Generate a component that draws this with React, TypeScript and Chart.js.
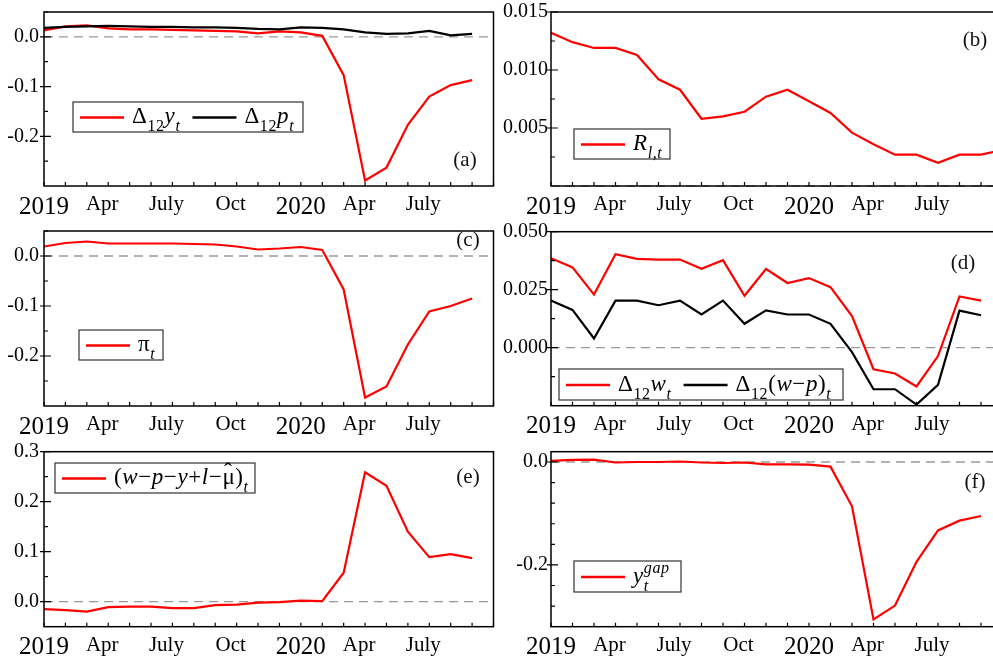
import React, { useEffect, useRef } from 'react';
import { Chart, registerables } from 'chart.js';

Chart.register(...registerables);

const SERIF = '"Liberation Serif", "Times New Roman", serif';
const RED = '#ff0000';
const BLACK = '#000000';

// Months from Jan 2019 (index 0) to Oct 2020 (index 21)
const months = [
  '2019-01', '2019-02', '2019-03', '2019-04', '2019-05', '2019-06', '2019-07', '2019-08',
  '2019-09', '2019-10', '2019-11', '2019-12', '2020-01', '2020-02', '2020-03', '2020-04',
  '2020-05', '2020-06', '2020-07', '2020-08', '2020-09', '2020-10',
];
const xTickPos = [0, 2.72, 5.72, 8.72, 12, 14.72, 17.72];
const xTickLabels = ['2019', 'Apr', 'July', 'Oct', '2020', 'Apr', 'July'];

// (a)
const dy12 = [0.013, 0.021, 0.023, 0.017, 0.015, 0.015, 0.014, 0.013, 0.012, 0.011, 0.007, 0.011, 0.009, 0.002, -0.077, -0.289, -0.263, -0.177, -0.120, -0.097, -0.087];
const dp12 = [0.018, 0.020, 0.021, 0.022, 0.021, 0.020, 0.020, 0.019, 0.019, 0.018, 0.016, 0.015, 0.019, 0.018, 0.015, 0.009, 0.006, 0.007, 0.012, 0.003, 0.006];
// (b)
const rl = [0.0132, 0.0124, 0.0119, 0.0119, 0.0113, 0.0092, 0.0083, 0.0058, 0.0060, 0.0064, 0.0077, 0.0083, 0.0073, 0.0063, 0.0046, 0.0036, 0.0027, 0.0027, 0.0020, 0.0027, 0.0027, 0.0031];
// (c)
const infl = [0.019, 0.026, 0.029, 0.025, 0.025, 0.025, 0.025, 0.024, 0.023, 0.019, 0.013, 0.015, 0.018, 0.012, -0.067, -0.283, -0.261, -0.177, -0.111, -0.100, -0.085];
// (d)
const dw12 = [0.0386, 0.0346, 0.0229, 0.0403, 0.0383, 0.0380, 0.0380, 0.0340, 0.0377, 0.0224, 0.0339, 0.0279, 0.0300, 0.0261, 0.0136, -0.0093, -0.0111, -0.0167, -0.0036, 0.0221, 0.0203];
const dwp12 = [0.0203, 0.0163, 0.0040, 0.0203, 0.0203, 0.0183, 0.0203, 0.0143, 0.0203, 0.0103, 0.0161, 0.0143, 0.0143, 0.0103, -0.0019, -0.0179, -0.0179, -0.0245, -0.0160, 0.0160, 0.0140];
// (e)
const wedge = [-0.015, -0.017, -0.020, -0.011, -0.010, -0.010, -0.013, -0.013, -0.007, -0.006, -0.002, -0.001, 0.002, 0.001, 0.058, 0.259, 0.232, 0.140, 0.089, 0.095, 0.087];
// (f)
const ygap = [0.002, 0.004, 0.0045, -0.001, 0.000, 0.000, 0.001, -0.001, -0.002, -0.001, -0.0045, -0.0045, -0.005, -0.009, -0.086, -0.306, -0.279, -0.194, -0.133, -0.114, -0.105];

// y ticks
const yMajorA = [0, -0.1, -0.2];
const yMinorA = [0.05, -0.05, -0.15, -0.25];
const yMajorB = [0.015, 0.01, 0.005];
const yMinorB = [0.0125, 0.0075, 0.0025];
const yMajorD = [0.05, 0.025, 0];
const yMinorD = [0.0375, 0.0125, -0.0125];
const yMajorE = [0.3, 0.2, 0.1, 0];
const yMinorE = [0.25, 0.15, 0.05];
const yMajorF = [0, -0.2];
const yMinorF = [-0.04, -0.08, -0.12, -0.16, -0.24, -0.28];

type Seg = { t: string; i?: boolean; sub?: boolean; sup?: boolean; hold?: boolean; hat?: boolean };
type Series = { data: number[]; color: string; order: number };
type LegendItem = { color: string; segs: Seg[] };
type PanelCfg = {
  left: number; top: number; width: number; height: number;
  padTop: number; padRight: number; yWidth: number; xHeight: number; yPad: number;
  yMin: number; yMax: number; yMajor: number[]; yMinor: number[]; dec: number;
  series: Series[];
  legend: { x: number; y: number; w: number; h: number; base: number; items: LegendItem[] };
  tag: string; tagX: number; tagY: number;
};

function drawRich(ctx: CanvasRenderingContext2D, segs: Seg[], x: number, base: number): number {
  let cx = x;
  (ctx as any).letterSpacing = '0.6px';
  for (const s of segs) {
    const small = s.sub || s.sup;
    const size = small ? 16 : 23;
    ctx.font = `${s.i ? 'italic ' : ''}${size}px ${SERIF}`;
    const dy = s.sub ? 8 : s.sup ? -10 : 0;
    ctx.textAlign = 'left';
    ctx.fillText(s.t, cx, base + dy);
    const w = ctx.measureText(s.t).width;
    if (s.hat) {
      ctx.save();
      ctx.font = `24px ${SERIF}`;
      ctx.textAlign = 'center';
      ctx.fillText('ˆ', cx + w / 2 - 0.5, base - 5);
      ctx.restore();
    }
    if (!s.hold) cx += w;
  }
  (ctx as any).letterSpacing = '0px';
  return cx;
}

function makeDeco(cfg: PanelCfg) {
  return {
    id: 'panelDeco',
    beforeDatasetsDraw(chart: any) {
      const { ctx, chartArea: a } = chart;
      const ys = chart.scales.y;
      const y0 = ys.getPixelForValue(0);
      ctx.save();
      ctx.strokeStyle = '#999999';
      ctx.lineWidth = 1.3;
      ctx.setLineDash([9, 6]);
      ctx.beginPath();
      ctx.moveTo(a.left, y0);
      ctx.lineTo(a.right, y0);
      ctx.stroke();
      ctx.restore();
    },
    afterDatasetsDraw(chart: any) {
      const { ctx, chartArea: a } = chart;
      const xs = chart.scales.x;
      const ys = chart.scales.y;
      ctx.save();
      // frame
      ctx.strokeStyle = '#000';
      ctx.lineWidth = 1.5;
      ctx.strokeRect(a.left, a.top, a.right - a.left, a.bottom - a.top);
      // x ticks (monthly, inward)
      ctx.lineWidth = 1.2;
      ctx.beginPath();
      months.forEach((_m, i) => {
        const px = xs.getPixelForValue(i);
        ctx.moveTo(px, a.bottom);
        ctx.lineTo(px, a.bottom - 4);
      });
      // y ticks
      cfg.yMajor.forEach((v) => {
        const py = ys.getPixelForValue(v);
        ctx.moveTo(a.left - 4, py);
        ctx.lineTo(a.left + 7, py);
      });
      cfg.yMinor.forEach((v) => {
        const py = ys.getPixelForValue(v);
        ctx.moveTo(a.left, py);
        ctx.lineTo(a.left + 4, py);
      });
      ctx.stroke();

      // legend
      const L = cfg.legend;
      const lx = L.x - cfg.left;
      const ly = L.y - cfg.top;
      ctx.fillStyle = '#fff';
      ctx.fillRect(lx, ly, L.w, L.h);
      ctx.strokeStyle = '#333';
      ctx.lineWidth = 1.2;
      ctx.strokeRect(lx, ly, L.w, L.h);
      let cx = lx + 7;
      const mid = ly + L.h / 2 + 0.5;
      const base = ly + L.base;
      ctx.textBaseline = 'alphabetic';
      L.items.forEach((it) => {
        ctx.strokeStyle = it.color;
        ctx.lineWidth = 2.4;
        ctx.beginPath();
        ctx.moveTo(cx, mid);
        ctx.lineTo(cx + 44, mid);
        ctx.stroke();
        cx += 44 + 8;
        ctx.fillStyle = '#000';
        cx = drawRich(ctx, it.segs, cx, base);
        cx += 12;
      });

      // panel tag
      ctx.fillStyle = '#111';
      ctx.font = `21px ${SERIF}`;
      ctx.textAlign = 'center';
      ctx.textBaseline = 'middle';
      ctx.fillText(cfg.tag, cfg.tagX - cfg.left, cfg.tagY - cfg.top);
      ctx.restore();
    },
  };
}

function Panel({ cfg }: { cfg: PanelCfg }) {
  const ref = useRef<HTMLCanvasElement | null>(null);
  useEffect(() => {
    if (!ref.current) return;
    const chart = new Chart(ref.current, {
      type: 'line',
      data: {
        datasets: cfg.series.map((s) => ({
          data: s.data.map((v, i) => ({ x: i, y: v })),
          borderColor: s.color,
          backgroundColor: s.color,
          borderWidth: 2.2,
          pointRadius: 0,
          tension: 0,
          fill: false,
          order: s.order,
        })),
      },
      options: {
        animation: false,
        responsive: false,
        devicePixelRatio: 1,
        layout: { padding: { top: cfg.padTop, right: cfg.padRight, left: 0, bottom: 0 } },
        plugins: { legend: { display: false }, tooltip: { enabled: false } },
        scales: {
          x: {
            type: 'linear',
            min: 0,
            max: 21,
            grid: { display: false, drawTicks: false },
            border: { display: false },
            afterBuildTicks: (s: any) => {
              s.ticks = xTickPos.map((v) => ({ value: v }));
            },
            afterFit: (s: any) => {
              s.height = cfg.xHeight;
              s.paddingLeft = 0;
              s.paddingRight = 0;
            },
            ticks: {
              autoSkip: false,
              maxRotation: 0,
              minRotation: 0,
              padding: 6,
              color: '#000',
              callback: (_v: any, i: number) => xTickLabels[i],
              font: (c: any) => ({
                family: SERIF,
                size: /^\d{4}$/.test(xTickLabels[c.index] || '') ? 25 : 21,
              }),
            },
          },
          y: {
            type: 'linear',
            min: cfg.yMin,
            max: cfg.yMax,
            grid: { display: false, drawTicks: false },
            border: { display: false },
            afterBuildTicks: (s: any) => {
              s.ticks = cfg.yMajor.map((v) => ({ value: v }));
            },
            afterFit: (s: any) => {
              s.width = cfg.yWidth;
              s.paddingTop = 0;
              s.paddingBottom = 0;
            },
            ticks: {
              padding: cfg.yPad,
              color: '#000',
              font: { family: SERIF, size: 20 },
              callback: (v: any) => Number(v).toFixed(cfg.dec),
            },
          },
        },
      },
      plugins: [makeDeco(cfg)],
    } as any);
    return () => chart.destroy();
  }, [cfg]);
  return (
    <canvas
      ref={ref}
      width={cfg.width}
      height={cfg.height}
      style={{ position: 'absolute', left: cfg.left, top: cfg.top, width: cfg.width, height: cfg.height }}
    />
  );
}

const D12: Seg[] = [{ t: 'Δ' }, { t: '12', sub: true }];

const panels: PanelCfg[] = [
  {
    left: 0, top: 0, width: 500, height: 236, padTop: 12, padRight: 6.5, yWidth: 44, xHeight: 50, yPad: 5,
    yMin: -0.3, yMax: 0.05, yMajor: yMajorA, yMinor: yMinorA, dec: 1,
    series: [{ data: dy12, color: RED, order: 2 }, { data: dp12, color: BLACK, order: 1 }],
    legend: {
      x: 73, y: 102, w: 230, h: 30, base: 21,
      items: [
        { color: RED, segs: [...D12, { t: 'y', i: true }, { t: 't', i: true, sub: true }] },
        { color: BLACK, segs: [...D12, { t: 'p', i: true }, { t: 't', i: true, sub: true }] },
      ],
    },
    tag: '(a)', tagX: 465, tagY: 160,
  },
  {
    left: 470, top: 0, width: 540, height: 236, padTop: 12, padRight: 7.5, yWidth: 81, xHeight: 50, yPad: 3,
    yMin: 0, yMax: 0.015, yMajor: yMajorB, yMinor: yMinorB, dec: 3,
    series: [{ data: rl, color: RED, order: 1 }],
    legend: {
      x: 574, y: 129, w: 96, h: 30, base: 21,
      items: [{ color: RED, segs: [{ t: 'R', i: true }, { t: 'l,t', i: true, sub: true }] }],
    },
    tag: '(b)', tagX: 975, tagY: 40,
  },
  {
    left: 0, top: 218, width: 500, height: 236, padTop: 13, padRight: 6.5, yWidth: 44, xHeight: 48, yPad: 5,
    yMin: -0.3, yMax: 0.05, yMajor: yMajorA, yMinor: yMinorA, dec: 1,
    series: [{ data: infl, color: RED, order: 1 }],
    legend: {
      x: 79, y: 330, w: 84, h: 30, base: 21,
      items: [{ color: RED, segs: [{ t: 'π' }, { t: 't', i: true, sub: true }] }],
    },
    tag: '(c)', tagX: 468, tagY: 240,
  },
  {
    left: 470, top: 218, width: 540, height: 236, padTop: 13.7, padRight: 7.5, yWidth: 81, xHeight: 48.3, yPad: 3,
    yMin: -0.025, yMax: 0.05, yMajor: yMajorD, yMinor: yMinorD, dec: 3,
    series: [{ data: dw12, color: RED, order: 2 }, { data: dwp12, color: BLACK, order: 1 }],
    legend: {
      x: 559, y: 369, w: 284, h: 31, base: 22,
      items: [
        { color: RED, segs: [...D12, { t: 'w', i: true }, { t: 't', i: true, sub: true }] },
        {
          color: BLACK,
          segs: [...D12, { t: '(' }, { t: 'w', i: true }, { t: '−' }, { t: 'p', i: true }, { t: ')' }, { t: 't', i: true, sub: true }],
        },
      ],
    },
    tag: '(d)', tagX: 963, tagY: 263,
  },
  {
    left: 0, top: 436, width: 500, height: 224, padTop: 15.7, padRight: 6.5, yWidth: 44, xHeight: 33.3, yPad: 5,
    yMin: -0.05, yMax: 0.3, yMajor: yMajorE, yMinor: yMinorE, dec: 1,
    series: [{ data: wedge, color: RED, order: 1 }],
    legend: {
      x: 55, y: 463, w: 200, h: 30, base: 21,
      items: [
        {
          color: RED,
          segs: [
            { t: '(' }, { t: 'w', i: true }, { t: '−' }, { t: 'p', i: true }, { t: '−' }, { t: 'y', i: true },
            { t: '+' }, { t: 'l', i: true }, { t: '−' }, { t: 'μ', hat: true }, { t: ')' }, { t: 't', i: true, sub: true },
          ],
        },
      ],
    },
    tag: '(e)', tagX: 468, tagY: 477,
  },
  {
    left: 470, top: 436, width: 540, height: 224, padTop: 15.7, padRight: 7.5, yWidth: 81, xHeight: 33.3, yPad: 3,
    yMin: -0.32, yMax: 0.02, yMajor: yMajorF, yMinor: yMinorF, dec: 1,
    series: [{ data: ygap, color: RED, order: 1 }],
    legend: {
      x: 574, y: 561, w: 107, h: 31, base: 22,
      items: [
        { color: RED, segs: [{ t: 'y', i: true }, { t: 't', i: true, sub: true, hold: true }, { t: 'gap', i: true, sup: true }] },
      ],
    },
    tag: '(f)', tagX: 975, tagY: 482,
  },
];

export default function App() {
  return (
    <div
      style={{
        position: 'fixed', left: 0, top: 0, width: 993, height: 660,
        overflow: 'hidden', background: '#fff',
      }}
    >
      {panels.map((p) => (
        <Panel key={p.tag} cfg={p} />
      ))}
    </div>
  );
}
